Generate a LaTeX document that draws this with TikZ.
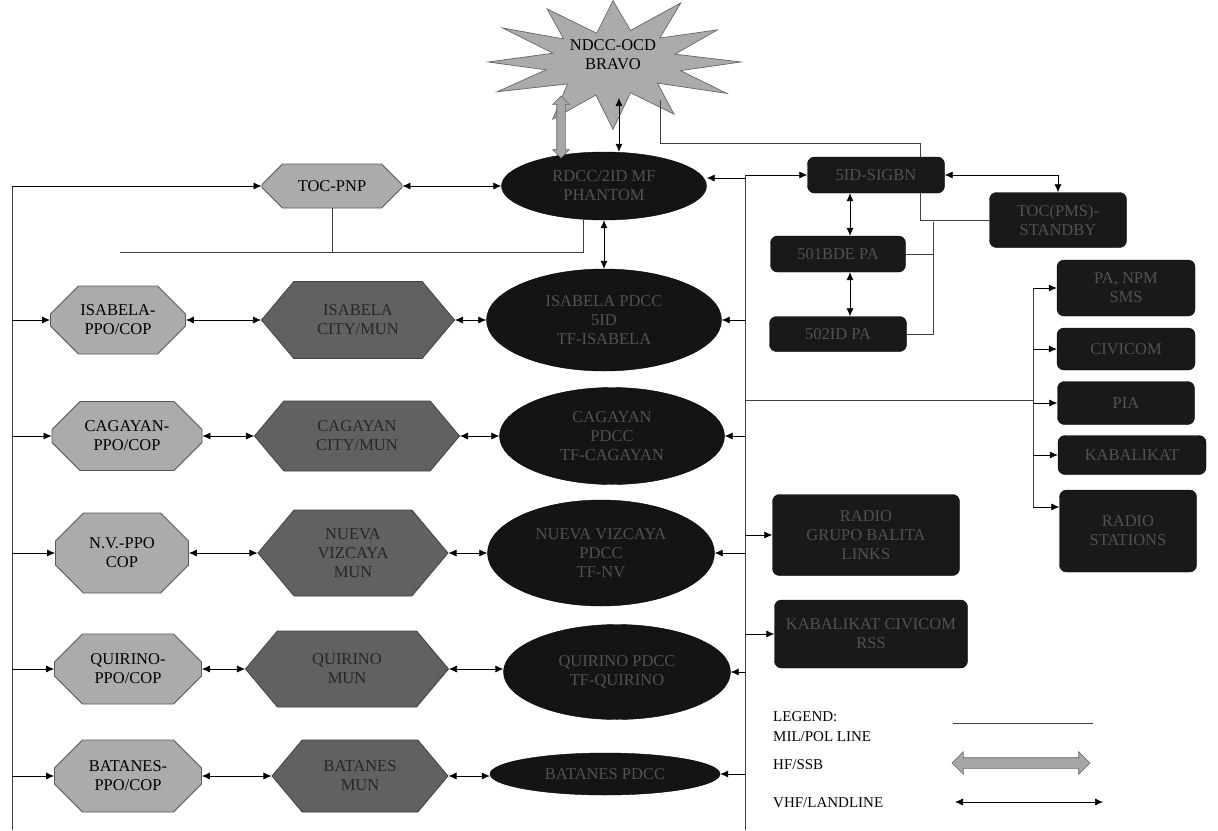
\documentclass[tikz,border=0pt]{standalone}
\usepackage{fontspec}
\setmainfont{Liberation Serif}
\usetikzlibrary{shapes.misc,shapes.symbols,shapes.geometric,shapes.arrows,arrows.meta,backgrounds}
\begin{document}
\begin{tikzpicture}[x=1pt,y=-1pt,
  every node/.style={font=\fontsize{16.5}{19}\selectfont, align=center, inner sep=1pt},
  ppo/.style={chamfered rectangle, chamfered rectangle xsep=14pt, chamfered rectangle ysep=14pt,
    draw=black!65, fill=black!33, line width=0.8pt, text=black},
  mun/.style={signal, signal to={west and east}, signal pointer angle=100,
    draw=black!75, fill=black!62, line width=0.8pt, text=black!85},
  ell/.style={ellipse, draw=black, fill=black!92, text=black!68, inner sep=0pt},
  dbox/.style={rectangle, rounded corners=7pt, draw=black, fill=black!90, text=black!68},
  vhf/.style={{Latex[length=8pt,width=7pt]}-{Latex[length=8pt,width=7pt]}, line width=0.7pt},
  vto/.style={-{Latex[length=8pt,width=7pt]}, line width=0.7pt},
  mil/.style={line width=0.7pt, draw=black!75},
  faint/.style={line width=0.5pt, draw=black!30},
  hfarrow/.style={double arrow, draw=black!60, fill=black!35, line width=0.6pt},
  legend/.style={anchor=west, font=\fontsize{15}{17}\selectfont}
]
\useasboundingbox (0,0) rectangle (1218,830);
\fill[white] (0,0) rectangle (1218,830);

% star
\begin{scope}[shift={(613,62)}]
\filldraw[draw=black!60, fill=black!33, line width=0.7pt]
  (0:128 and 58) \foreach \i in {1,...,23}{ -- ({\i*15}:{(128-62*mod(\i,2))*(1+0.06*sin(\i*77))} and {(64-32*mod(\i,2))*(1+0.07*cos(\i*53))}) } -- cycle;
\end{scope}
\node (ndcc) at (613,55) {NDCC-OCD\\BRAVO};
\coordinate (sA) at (561,96);
\coordinate (sB) at (619,98);
\coordinate (sC) at (660,100);

% nodes
\node[ppo, minimum width=140pt, minimum height=44pt] (toc) at (332,186) {TOC-PNP};
\node[ell, minimum width=205pt, minimum height=68pt] (top) at (604,186) {RDCC/2ID MF\\PHANTOM};

\node[ppo, minimum width=135pt, minimum height=68pt] (p1) at (118,320) {ISABELA-\\PPO/COP};
\node[ppo, minimum width=150pt, minimum height=69pt] (p2) at (127,436) {CAGAYAN-\\PPO/COP};
\node[ppo, minimum width=133pt, minimum height=80pt] (p3) at (122,553) {N.V.-PPO\\COP};
\node[ppo, minimum width=147pt, minimum height=70pt] (p4) at (128,669) {QUIRINO-\\PPO/COP};
\node[ppo, minimum width=147pt, minimum height=72pt] (p5) at (128,776) {BATANES-\\PPO/COP};

\node[mun, minimum width=193pt, minimum height=77pt] (m1) at (358,320) {ISABELA\\CITY/MUN};
\node[mun, minimum width=205pt, minimum height=70pt] (m2) at (357,436) {CAGAYAN\\CITY/MUN};
\node[mun, minimum width=190pt, minimum height=86pt] (m3) at (353,553) {NUEVA\\VIZCAYA\\MUN};
\node[mun, minimum width=203pt, minimum height=76pt] (m4) at (347,669) {QUIRINO\\MUN};
\node[mun, minimum width=176pt, minimum height=72pt] (m5) at (360,776) {BATANES\\MUN};

\node[ell, minimum width=235pt, minimum height=102pt] (e1) at (604,320) {ISABELA PDCC\\5ID\\TF-ISABELA};
\node[ell, minimum width=225pt, minimum height=97pt] (e2) at (612,436) {CAGAYAN\\PDCC\\TF-CAGAYAN};
\node[ell, minimum width=227pt, minimum height=106pt] (e3) at (601,553) {NUEVA VIZCAYA\\PDCC\\TF-NV};
\node[ell, minimum width=227pt, minimum height=95pt] (e4) at (617,672) {QUIRINO PDCC\\TF-QUIRINO};
\node[ell, minimum width=230pt, minimum height=42pt] (e5) at (605,774) {BATANES PDCC};

\node[dbox, minimum width=137pt, minimum height=36pt] (id5) at (876,175) {5ID-SIGBN};
\node[dbox, minimum width=137pt, minimum height=55pt] (tocs) at (1058,220) {TOC(PMS)-\\STANDBY};
\node[dbox, minimum width=135pt, minimum height=36pt] (b1) at (838,254) {501BDE PA};
\node[dbox, minimum width=137pt, minimum height=35pt] (b2) at (838,334) {502ID PA};

\node[dbox, minimum width=138pt, minimum height=56pt] (r1) at (1126,288) {PA, NPM\\SMS};
\node[dbox, minimum width=138pt, minimum height=42pt] (r2) at (1126,349) {CIVICOM};
\node[dbox, minimum width=137pt, minimum height=43pt] (r3) at (1126,403) {PIA};
\node[dbox, minimum width=148pt, minimum height=39pt] (r4) at (1132,455) {KABALIKAT};
\node[dbox, minimum width=137pt, minimum height=82pt] (r5) at (1128,531) {RADIO\\STATIONS};

\node[dbox, minimum width=187pt, minimum height=81pt] (ra1) at (866,535) {RADIO\\GRUPO BALITA\\LINKS};
\node[dbox, minimum width=193pt, minimum height=68pt] (ra2) at (871,634) {KABALIKAT CIVICOM\\RSS};

% coordinates
\coordinate (L0) at (12,186);
\coordinate (Lb) at (12,830);
\coordinate (R0) at (745,175);
\coordinate (Rb) at (745,830);
\coordinate (J) at (120,252);
\coordinate (K) at (583,252);
\coordinate (Q0) at (745,400);
\coordinate (Q) at (1033,400);
\coordinate (Qt) at (1033,288);
\coordinate (Qb) at (1033,507);
\coordinate (T1) at (660,143);
\coordinate (T2) at (920,143);
\coordinate (T3) at (933,222);

% background lines
\begin{scope}[on background layer]
\draw[faint] (T1) -- (660,830);
\draw[mil] (J) -- (J |- p5.north);
\end{scope}

% star links
\node[hfarrow, rotate=90, minimum height=62pt, inner sep=4pt, double arrow head extend=4pt] (hf1) at (561,127) {};
\draw[vhf] (sB) -- (top.north -| sB);
\draw[mil] (sC) -- (T1) -- (T2) -- (id5.north -| T2);

% left side
\draw[mil] (Lb) -- (L0);
\draw[vto] (L0) -- (toc.west);
\draw[vhf] (toc.east) -- (top.west);
\draw[mil] (toc.south) -- (toc.south |- J);
\draw[mil] (top.south -| K) -- (K) -- (J);
\foreach \p in {p1,p2,p3,p4,p5}{\draw[vto] (\p.west -| L0) -- (\p.west);}
\foreach \i in {1,...,5}{
  \draw[vhf] (p\i.east) -- (m\i.west);
  \draw[vhf] (m\i.east) -- (m\i.east -| e\i.west);
}
\draw[vhf] (top.south) -- (e1.north);

% right side
\draw[mil] (Rb) -- (R0);
\draw[vto] (R0) -- (id5.west);
\draw[vto] ([yshift=8pt]top.east -| R0) -- ([yshift=8pt]top.east);
\foreach \e in {e1,e2,e3,e4,e5}{\draw[vto] (\e.east -| R0) -- (\e.east);}
\draw[vto] (ra1.west -| R0) -- (ra1.west);
\draw[vto] (ra2.west -| R0) -- (ra2.west);
\draw[mil] (Q0) -- (Q);
\draw[mil] (Qt) -- (Qb);
\foreach \r in {r1,r2,r3,r4}{\draw[vto] (\r.west -| Q) -- (\r.west);}
\draw[vto] (Qb) -- (Qb -| r5.west);

\draw[vhf] (id5.south -| 850,0) -- (b1.north -| 850,0);
\draw[vhf] (b1.south -| 850,0) -- (b2.north -| 850,0);
\draw[vhf] (id5.east) -| (tocs.north);
\draw[mil] (id5.south -| T2) |- (tocs.west);
\draw[mil] (T3) -- (T3 |- b2.east) -- (b2.east);
\draw[mil] (b1.east) -- (b1.east -| T3);

% legend
\node[legend] (lg1) at (772,717) {LEGEND:};
\node[legend] (lg2) at (772,737) {MIL/POL LINE};
\node[legend] (lg3) at (772,765) {HF/SSB};
\node[legend] (lg4) at (772,803) {VHF/LANDLINE};
\coordinate (la) at (953,723);
\coordinate (lb) at (1093,723);
\draw[mil] (la) -- (lb);
\node[hfarrow, minimum height=138pt, inner sep=5pt, double arrow head extend=6pt] (hf2) at (1021,763) {};
\coordinate (lc) at (955,802);
\coordinate (ld) at (1103,802);
\draw[vhf] (lc) -- (ld);
\end{tikzpicture}
\end{document}
